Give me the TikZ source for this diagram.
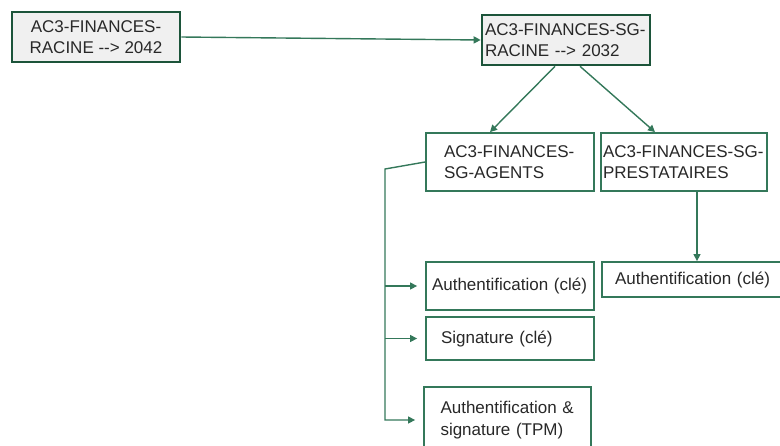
\documentclass[tikz,border=0pt]{standalone}
\usepackage{fontspec}
\setmainfont{Liberation Sans}
\usetikzlibrary{positioning,calc,arrows.meta}
\definecolor{rootgreen}{RGB}{28,84,58}
\definecolor{certgreen}{RGB}{52,120,90}
\definecolor{rootfill}{RGB}{240,240,240}
\definecolor{textgray}{RGB}{40,40,40}
\begin{document}
\begin{tikzpicture}[x=1pt,y=-1pt,
    root box/.style={rectangle, draw=rootgreen, line width=2.6pt, fill=rootfill, minimum width=168pt, minimum height=50pt, inner sep=0pt},
    cert box/.style={rectangle, draw=certgreen, line width=1.8pt, fill=white, minimum width=168pt, inner sep=0pt, align=left},
    link/.style={draw=certgreen, line width=1.4pt, -{Triangle[length=7pt,width=7pt]}},
    every node/.style={font=\fontsize{17}{21.5}\selectfont, text=textgray}]
    \useasboundingbox (0,0) rectangle (780,445);
    % racines
    \node[root box, align=center] (racine) at (96,37) {AC3-FINANCES-\\RACINE -\kern0pt-> 2042};
    \node[root box, align=left, text width=162pt] (sgracine) at (566,40) {AC3-FINANCES-SG-\\RACINE -\kern0pt-> 2032};
    % sous-AC
    \node[cert box, minimum height=58pt, text width=132pt] (agents) at (510,162) {AC3-FINANCES-\\SG-AGENTS};
    \node[cert box, minimum width=166pt, minimum height=58pt, text width=162pt] (prestataires) at (684,162) {AC3-FINANCES-SG-\\PRESTATAIRES};
    % certificats
    \node[cert box, minimum height=48pt, text width=156pt] (authcle) at (510,286) {\mbox{Authentification (clé)}};
    \node[cert box, minimum width=190pt, minimum height=35pt, text width=164pt] (authpresta) at (697,279.5) {\mbox{Authentification (clé)}};
    \node[cert box, minimum height=43pt, text width=138pt] (signature) at (510,338.5) {Signature (clé)};
    \node[cert box, minimum width=167pt, minimum height=66pt, text width=134pt] (tpm) at (507.5,420) {Authentification \&\\signature (TPM)};
    % liens
    \draw[link] (racine.east) -- (sgracine.west);
    \draw[link] ([xshift=-11pt]sgracine.south) -- ([xshift=-20pt]agents.north);
    \draw[link] ([xshift=14pt]sgracine.south) -- ([xshift=-29pt]prestataires.north);
    \draw[link] (authpresta.north |- prestataires.south) -- (authpresta.north);
    \coordinate (bus) at (385,169);
    \draw[link, shorten >=8pt] (agents.west) -- (bus) -- (bus |- tpm.west) -- (tpm.west);
    \draw[link, shorten >=8pt] (bus |- authcle.west) -- (authcle.west);
    \draw[link, shorten >=8pt] (bus |- signature.west) -- (signature.west);
\end{tikzpicture}
\end{document}
